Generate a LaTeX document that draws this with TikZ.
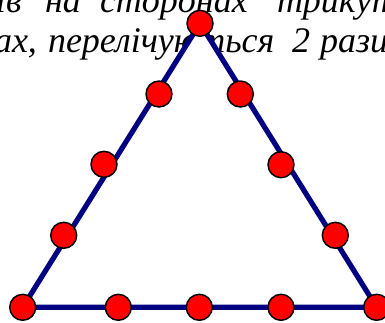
\documentclass[tikz,border=0pt]{standalone}
\usepackage{fontspec}
\setmainfont{Liberation Serif}
\begin{document}
\begin{tikzpicture}[x=0.75pt,y=-0.75pt,
  txt/.style={anchor=base west,inner sep=0pt,outer sep=0pt,font=\fontsize{27}{32}\selectfont\itshape},
  dot/.style={circle,draw=black,fill=red,line width=1.1pt,minimum size=19.5pt,inner sep=0pt,outer sep=0pt},
  side/.style={draw={rgb,255:red,0;green,0;blue,128},fill=white,line width=3.9pt}]
\useasboundingbox (0,0) rectangle (385,322);
\begin{scope}
\clip (0,0) rectangle (385,322);
\node[txt] (w1) at (-4,12) {ів};
\node[txt] (w2) at (45,12) {на};
\node[txt] (w3) at (100,12) {сторонах};
\node[txt] (w4) at (277,12) {трикутника};
\node[txt] (v1) at (-6,52) {ах,};
\node[txt] (v2) at (48,52) {перелічуються};
\node[txt] (v3) at (292,52) {2};
\node[txt] (v4) at (320,52) {рази};
\coordinate (T) at (200,23.3);
\coordinate (B0) at (22.7,307.3);
\coordinate (B4) at (376.7,307.3);
\filldraw[side] (B0) -- (T) -- (B4) -- cycle;
\node[dot] (nT) at (T) {};
\node[dot] (nB0) at (B0) {};
\node[dot] (nB4) at (B4) {};
\node[dot] (L1) at (63.7,235.3) {};
\node[dot] (L2) at (104,164.3) {};
\node[dot] (L3) at (159,94) {};
\node[dot] (R1) at (335.3,235.3) {};
\node[dot] (R2) at (281,164.7) {};
\node[dot] (R3) at (240.3,94) {};
\node[dot] (B1) at (118.3,307.3) {};
\node[dot] (B2) at (199.3,307.3) {};
\node[dot] (B3) at (281,307.3) {};
\end{scope}
\end{tikzpicture}
\end{document}
